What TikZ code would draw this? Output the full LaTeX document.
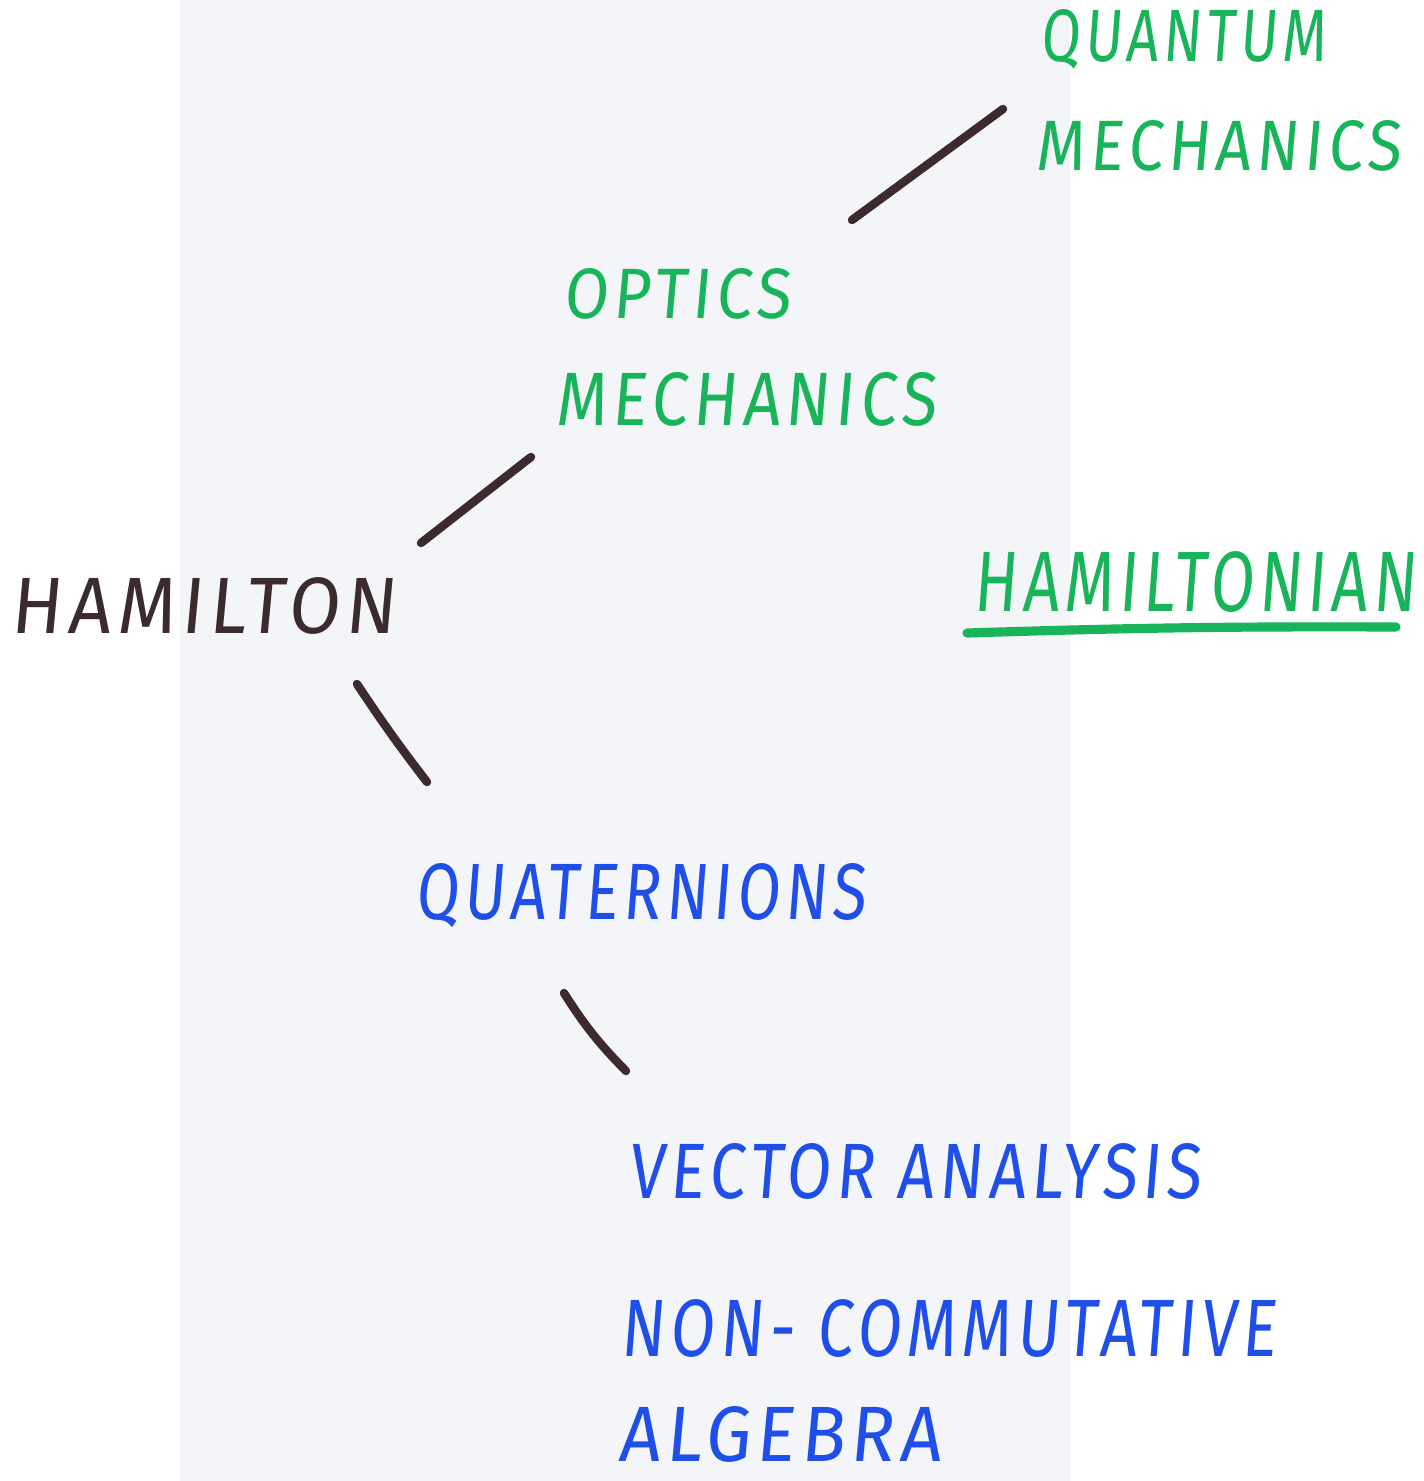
\documentclass[tikz,border=0pt]{standalone}
\usepackage{fontspec}
\usepackage{graphicx}
\setmainfont{Fira Sans}[LetterSpace=8,FakeSlant=0.1]
\definecolor{inkgreen}{HTML}{17B45A}
\definecolor{inkblack}{HTML}{3B2A2E}
\definecolor{inkblue}{HTML}{1F4FE8}
\definecolor{paperband}{HTML}{F4F5F8}
\newcommand{\fitto}[3]{\resizebox{#1\dimexpr0.01cm\relax}{#2\dimexpr0.01cm\relax}{#3}}
\begin{document}
\begin{tikzpicture}[x=0.01cm,y=-0.01cm,
  hand/.style={inner sep=0pt,font=\fontsize{22}{26}\selectfont},
  g/.style={hand,text=inkgreen},
  k/.style={hand,text=inkblack},
  b/.style={hand,text=inkblue},
  link/.style={draw=inkblack,line width=2.4pt,line cap=round}]
\useasboundingbox (0,0) rectangle (1424,1481);
\fill[white] (0,0) rectangle (1424,1481);
\fill[paperband] (180,0) rectangle (1070,1481);
% nodes
\node[g,anchor=south west] (qm1) at (1040,70) {\fitto{285}{52}{QUANTUM}};
\node[g,anchor=south west] (qm2) at (1035,172) {\fitto{365}{50}{MECHANICS}};
\node[g,anchor=south west] (opt) at (563,320) {\fitto{227}{50}{OPTICS}};
\node[g,anchor=south west] (mech) at (555,427) {\fitto{380}{53}{MECHANICS}};
\node[k,anchor=south west] (ham) at (10,635) {\fitto{385}{56}{HAMILTON}};
\node[g,anchor=south west] (hamn) at (973,613) {\fitto{442}{60}{HAMILTONIAN}};
\node[b,anchor=south west] (quat) at (415,928) {\fitto{450}{56}{QUATERNIONS}};
\node[b,anchor=south west] (vec) at (628,1200) {\fitto{572}{55}{VECTOR ANALYSIS}};
\node[b,anchor=south west] (nonc) at (620,1358) {\fitto{655}{57}{NON- COMMUTATIVE}};
\node[b,anchor=south west] (alg) at (618,1463) {\fitto{322}{55}{ALGEBRA}};
% connector ends
\coordinate (a1) at (852,220); \coordinate (a2) at (1003,109);
\coordinate (b1) at (421,543); \coordinate (b2) at (531,457);
\coordinate (c1) at (357,684); \coordinate (c2) at (427,782);
\coordinate (d1) at (564,993); \coordinate (d2) at (626,1071);
\coordinate (u1) at (967,633); \coordinate (u2) at (1396,627);
\draw[link] (a1) -- (a2);
\draw[link] (b1) -- (b2);
\draw[link] (c1) to[bend right=2] (c2);
\draw[link] (d1) to[bend right=6] (d2);
\draw[draw=inkgreen,line width=2.6pt,line cap=round] (u1) to[bend left=1] (u2);
\end{tikzpicture}
\end{document}
